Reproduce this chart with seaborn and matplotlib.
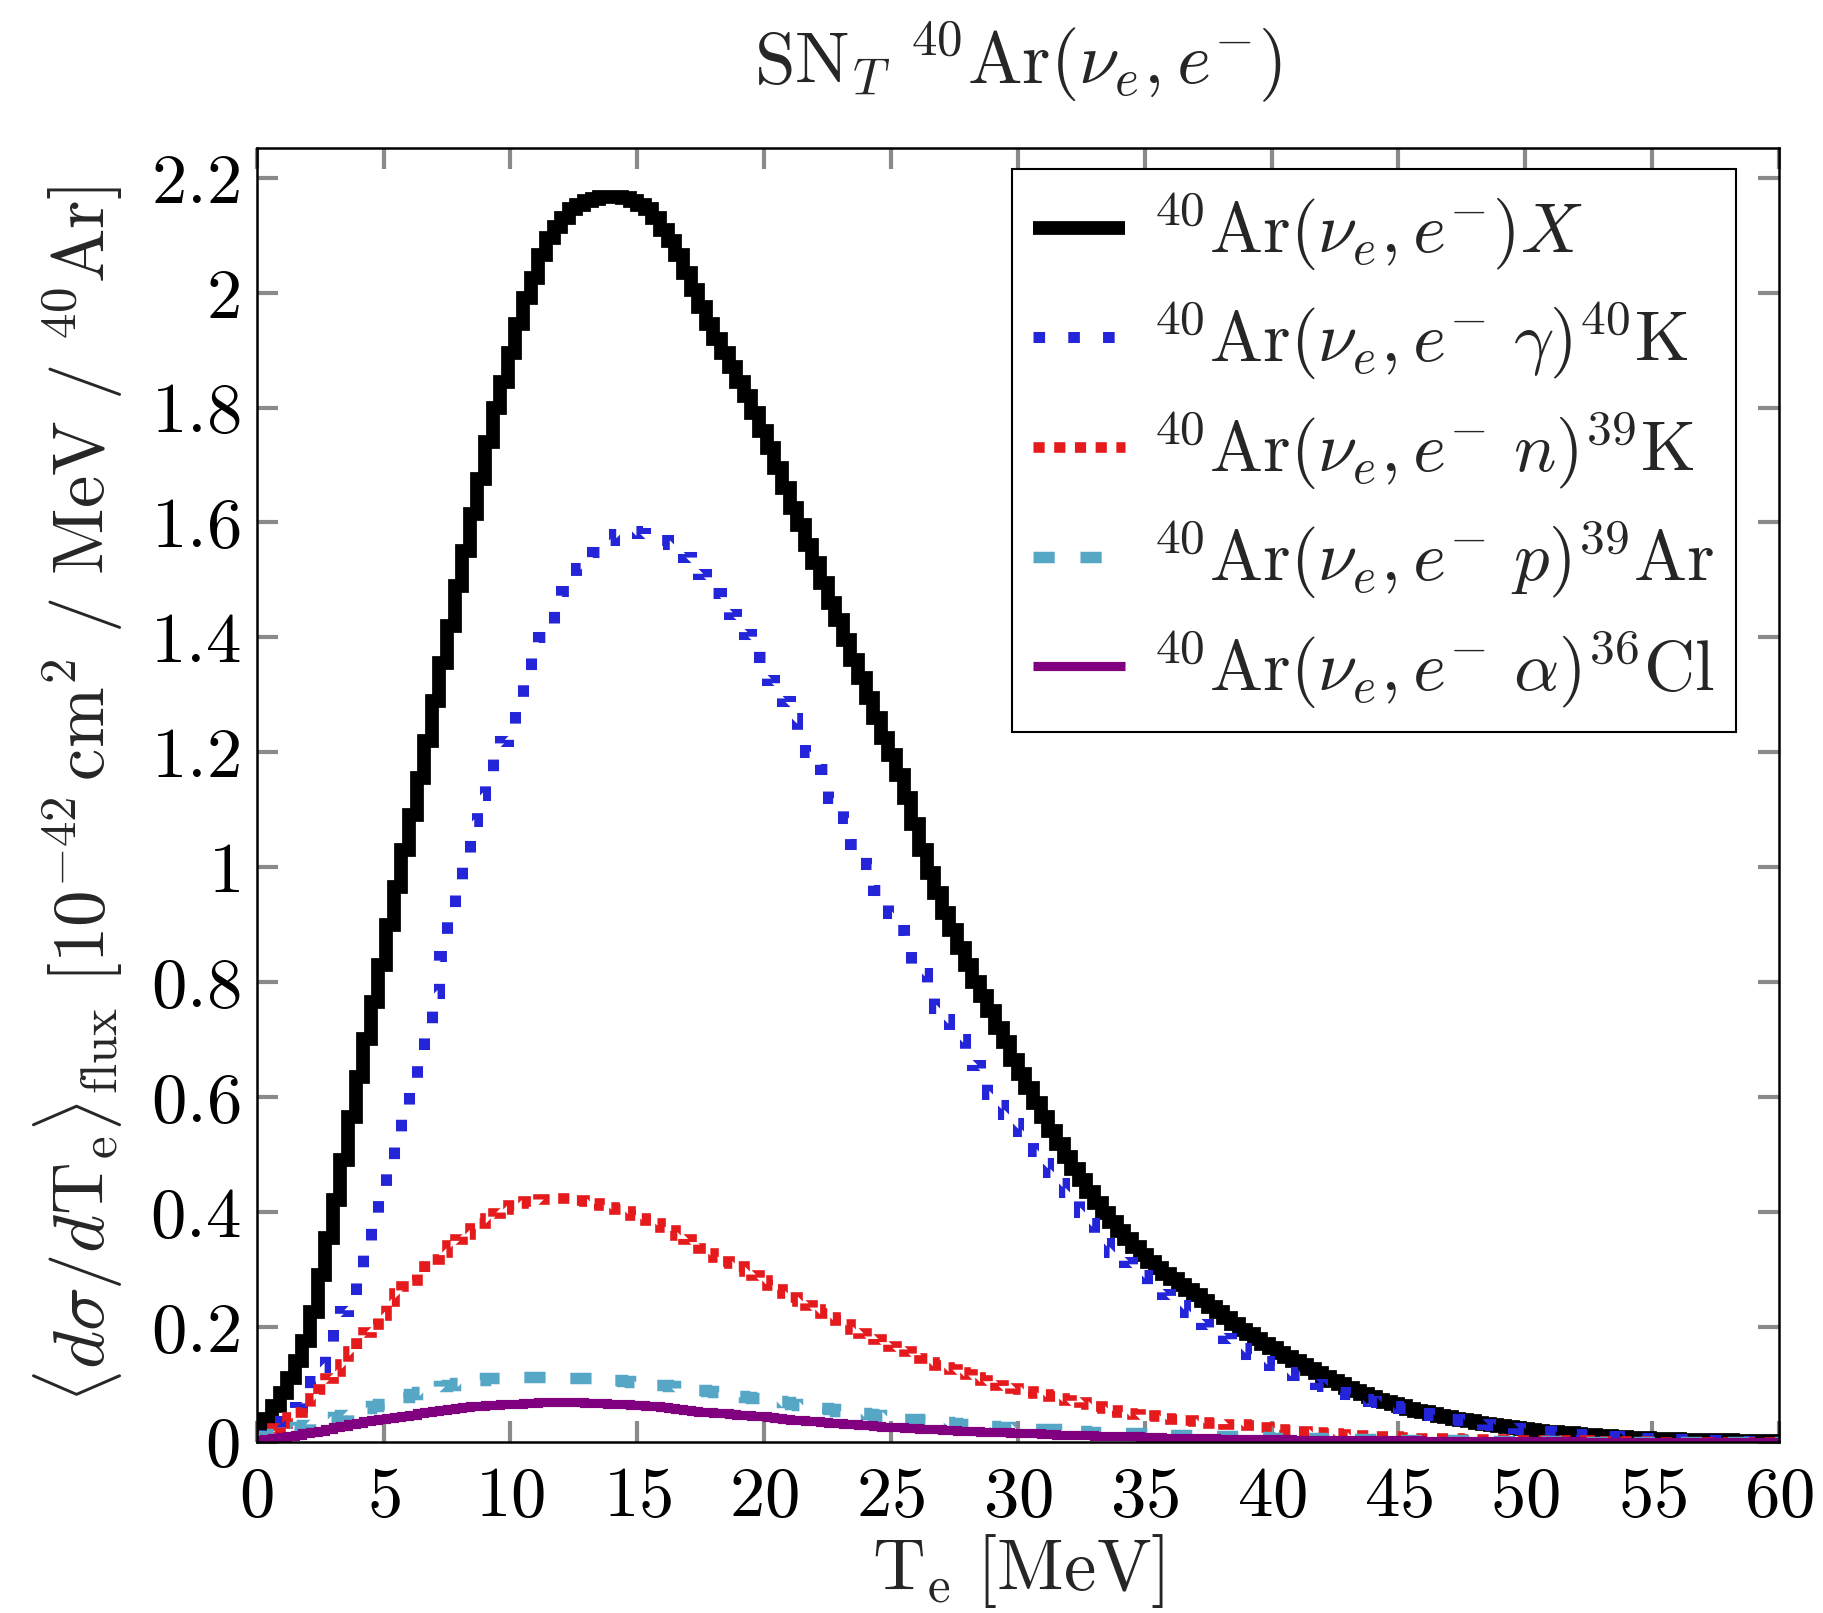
import numpy as np
import matplotlib
matplotlib.use("Agg")
import matplotlib.pyplot as plt
import matplotlib.ticker as mticker
import seaborn as sns

# bin edges: 0 .. 60 MeV, 0.3 MeV wide (200 bins),
# one row of ten bins = 3 MeV
black_X = [
    0.012, 0.040, 0.062, 0.085, 0.110, 0.140, 0.175, 0.225, 0.290, 0.355,
    0.420, 0.490, 0.565, 0.635, 0.700, 0.765, 0.830, 0.900, 0.965, 1.030,
    1.090, 1.155, 1.220, 1.290, 1.355, 1.420, 1.490, 1.550, 1.615, 1.675,
    1.740, 1.800, 1.845, 1.895, 1.945, 1.990, 2.025, 2.065, 2.095, 2.115,
    2.130, 2.145, 2.153, 2.160, 2.163, 2.166, 2.167, 2.167, 2.165, 2.160,
    2.153, 2.145, 2.130, 2.110, 2.090, 2.065, 2.035, 2.005, 1.975, 1.945,
    1.920, 1.895, 1.870, 1.845, 1.820, 1.790, 1.760, 1.730, 1.695, 1.660,
    1.625, 1.595, 1.560, 1.530, 1.495, 1.460, 1.430, 1.395, 1.360, 1.330,
    1.295, 1.260, 1.225, 1.195, 1.160, 1.120, 1.075, 1.030, 0.990, 0.955,
    0.920, 0.890, 0.860, 0.830, 0.800, 0.775, 0.750, 0.720, 0.695, 0.665,
    0.640, 0.615, 0.590, 0.565, 0.540, 0.518, 0.495, 0.475, 0.455, 0.435,
    0.415, 0.398, 0.382, 0.367, 0.352, 0.338, 0.325, 0.313, 0.302, 0.292,
    0.283, 0.273, 0.264, 0.255, 0.245, 0.235, 0.225, 0.215, 0.205, 0.195,
    0.187, 0.178, 0.170, 0.162, 0.155, 0.147, 0.140, 0.133, 0.126, 0.120,
    0.113, 0.106, 0.100, 0.094, 0.088, 0.083, 0.078, 0.073, 0.069, 0.065,
    0.061, 0.057, 0.054, 0.051, 0.048, 0.045, 0.043, 0.040, 0.038, 0.036,
    0.033, 0.031, 0.029, 0.027, 0.025, 0.023, 0.022, 0.020, 0.019, 0.017,
    0.016, 0.015, 0.014, 0.013, 0.012, 0.011, 0.010, 0.009, 0.008, 0.008,
    0.007, 0.006, 0.006, 0.005, 0.005, 0.004, 0.004, 0.003, 0.003, 0.003,
    0.002, 0.002, 0.002, 0.002, 0.001, 0.001, 0.001, 0.001, 0.001, 0.001,
]
blue_gamma = [
    0.005, 0.012, 0.024, 0.036, 0.048, 0.060, 0.080, 0.105, 0.130, 0.165,
    0.200, 0.228, 0.255, 0.290, 0.335, 0.385, 0.435, 0.485, 0.535, 0.580,
    0.630, 0.675, 0.725, 0.780, 0.845, 0.930, 0.975, 1.020, 1.080, 1.125,
    1.155, 1.200, 1.220, 1.240, 1.280, 1.335, 1.375, 1.400, 1.420, 1.460,
    1.480, 1.500, 1.520, 1.535, 1.548, 1.560, 1.570, 1.580, 1.586, 1.585,
    1.582, 1.580, 1.577, 1.570, 1.562, 1.553, 1.540, 1.527, 1.510, 1.495,
    1.478, 1.460, 1.440, 1.425, 1.405, 1.385, 1.365, 1.325, 1.305, 1.290,
    1.260, 1.230, 1.200, 1.185, 1.170, 1.120, 1.100, 1.085, 1.040, 1.020,
    1.005, 0.960, 0.940, 0.920, 0.890, 0.860, 0.830, 0.815, 0.800, 0.755,
    0.735, 0.715, 0.700, 0.680, 0.655, 0.630, 0.605, 0.585, 0.570, 0.555,
    0.540, 0.525, 0.505, 0.485, 0.470, 0.450, 0.435, 0.420, 0.400, 0.380,
    0.360, 0.345, 0.330, 0.320, 0.312, 0.304, 0.290, 0.275, 0.265, 0.256,
    0.247, 0.237, 0.225, 0.213, 0.205, 0.197, 0.188, 0.180, 0.172, 0.163,
    0.153, 0.146, 0.140, 0.133, 0.127, 0.121, 0.116, 0.111, 0.106, 0.101,
    0.097, 0.092, 0.087, 0.082, 0.078, 0.074, 0.071, 0.068, 0.065, 0.062,
    0.058, 0.055, 0.052, 0.049, 0.046, 0.043, 0.041, 0.039, 0.037, 0.035,
    0.033, 0.031, 0.029, 0.027, 0.025, 0.023, 0.021, 0.020, 0.019, 0.018,
    0.017, 0.016, 0.015, 0.013, 0.012, 0.011, 0.010, 0.010, 0.009, 0.008,
    0.008, 0.007, 0.007, 0.006, 0.006, 0.005, 0.005, 0.004, 0.004, 0.003,
    0.003, 0.003, 0.002, 0.002, 0.002, 0.001, 0.001, 0.001, 0.001, 0.001,
]
red_n = [
    0.010, 0.018, 0.023, 0.032, 0.043, 0.051, 0.060, 0.075, 0.092, 0.110,
    0.122, 0.135, 0.158, 0.172, 0.190, 0.205, 0.220, 0.245, 0.258, 0.270,
    0.282, 0.293, 0.305, 0.318, 0.330, 0.343, 0.353, 0.362, 0.372, 0.380,
    0.390, 0.398, 0.405, 0.411, 0.415, 0.418, 0.420, 0.422, 0.423, 0.424,
    0.424, 0.423, 0.420, 0.418, 0.415, 0.412, 0.408, 0.405, 0.401, 0.395,
    0.389, 0.385, 0.380, 0.374, 0.368, 0.360, 0.352, 0.345, 0.337, 0.328,
    0.321, 0.315, 0.310, 0.305, 0.297, 0.290, 0.281, 0.272, 0.265, 0.258,
    0.251, 0.244, 0.237, 0.230, 0.223, 0.217, 0.211, 0.205, 0.196, 0.189,
    0.183, 0.178, 0.172, 0.167, 0.162, 0.157, 0.152, 0.145, 0.139, 0.134,
    0.130, 0.126, 0.121, 0.117, 0.112, 0.107, 0.103, 0.099, 0.096, 0.094,
    0.091, 0.088, 0.085, 0.082, 0.079, 0.076, 0.073, 0.071, 0.068, 0.065,
    0.061, 0.058, 0.055, 0.052, 0.050, 0.048, 0.047, 0.046, 0.044, 0.041,
    0.039, 0.038, 0.037, 0.035, 0.034, 0.033, 0.032, 0.031, 0.031, 0.030,
    0.028, 0.026, 0.025, 0.023, 0.022, 0.020, 0.019, 0.018, 0.017, 0.016,
    0.015, 0.014, 0.013, 0.012, 0.011, 0.011, 0.010, 0.010, 0.009, 0.009,
    0.008, 0.008, 0.007, 0.007, 0.007, 0.006, 0.006, 0.006, 0.005, 0.005,
    0.005, 0.004, 0.004, 0.004, 0.004, 0.003, 0.003, 0.003, 0.003, 0.002,
    0.002, 0.002, 0.002, 0.002, 0.002, 0.001, 0.001, 0.001, 0.001, 0.001,
    0.001, 0.001, 0.001, 0.001, 0.000, 0.000, 0.000, 0.000, 0.000, 0.000,
    0.000, 0.000, 0.000, 0.000, 0.000, 0.000, 0.000, 0.000, 0.000, 0.000,
]
cyan_p = [
    0.005, 0.009, 0.013, 0.017, 0.021, 0.025, 0.029, 0.032, 0.035, 0.039,
    0.042, 0.046, 0.050, 0.054, 0.058, 0.062, 0.066, 0.070, 0.074, 0.078,
    0.082, 0.086, 0.090, 0.093, 0.096, 0.099, 0.102, 0.104, 0.106, 0.108,
    0.110, 0.111, 0.112, 0.113, 0.113, 0.113, 0.113, 0.113, 0.113, 0.112,
    0.112, 0.111, 0.110, 0.110, 0.109, 0.108, 0.107, 0.107, 0.106, 0.104,
    0.103, 0.101, 0.099, 0.098, 0.096, 0.094, 0.093, 0.091, 0.090, 0.088,
    0.086, 0.084, 0.082, 0.080, 0.078, 0.076, 0.074, 0.072, 0.070, 0.068,
    0.066, 0.064, 0.062, 0.060, 0.058, 0.056, 0.054, 0.053, 0.051, 0.050,
    0.048, 0.046, 0.045, 0.043, 0.042, 0.040, 0.039, 0.037, 0.036, 0.035,
    0.034, 0.033, 0.031, 0.030, 0.029, 0.028, 0.027, 0.026, 0.025, 0.024,
    0.024, 0.023, 0.022, 0.021, 0.021, 0.020, 0.019, 0.019, 0.018, 0.017,
    0.017, 0.016, 0.016, 0.015, 0.015, 0.014, 0.014, 0.013, 0.013, 0.012,
    0.012, 0.011, 0.011, 0.011, 0.010, 0.010, 0.010, 0.009, 0.009, 0.009,
    0.008, 0.008, 0.008, 0.007, 0.007, 0.007, 0.006, 0.006, 0.006, 0.006,
    0.005, 0.005, 0.005, 0.005, 0.004, 0.004, 0.004, 0.004, 0.004, 0.003,
    0.003, 0.003, 0.003, 0.003, 0.003, 0.002, 0.002, 0.002, 0.002, 0.002,
    0.002, 0.002, 0.001, 0.001, 0.001, 0.001, 0.001, 0.001, 0.001, 0.001,
    0.001, 0.001, 0.001, 0.001, 0.000, 0.000, 0.000, 0.000, 0.000, 0.000,
    0.000, 0.000, 0.000, 0.000, 0.000, 0.000, 0.000, 0.000, 0.000, 0.000,
    0.000, 0.000, 0.000, 0.000, 0.000, 0.000, 0.000, 0.000, 0.000, 0.000,
]
purple_alpha = [
    0.003, 0.004, 0.006, 0.008, 0.010, 0.012, 0.014, 0.017, 0.019, 0.022,
    0.025, 0.027, 0.030, 0.032, 0.035, 0.037, 0.039, 0.041, 0.043, 0.045,
    0.047, 0.049, 0.051, 0.053, 0.055, 0.057, 0.058, 0.060, 0.061, 0.062,
    0.063, 0.064, 0.065, 0.066, 0.066, 0.067, 0.067, 0.068, 0.068, 0.068,
    0.068, 0.068, 0.068, 0.067, 0.067, 0.067, 0.066, 0.066, 0.065, 0.064,
    0.063, 0.062, 0.061, 0.060, 0.058, 0.057, 0.055, 0.054, 0.052, 0.051,
    0.050, 0.049, 0.048, 0.047, 0.046, 0.045, 0.044, 0.042, 0.041, 0.040,
    0.038, 0.037, 0.036, 0.035, 0.034, 0.033, 0.032, 0.031, 0.030, 0.029,
    0.028, 0.027, 0.026, 0.025, 0.025, 0.024, 0.023, 0.022, 0.022, 0.021,
    0.020, 0.020, 0.019, 0.018, 0.018, 0.017, 0.017, 0.016, 0.016, 0.015,
    0.015, 0.014, 0.014, 0.013, 0.013, 0.012, 0.012, 0.011, 0.011, 0.011,
    0.010, 0.010, 0.010, 0.009, 0.009, 0.009, 0.008, 0.008, 0.008, 0.007,
    0.007, 0.007, 0.006, 0.006, 0.006, 0.006, 0.005, 0.005, 0.005, 0.005,
    0.005, 0.004, 0.004, 0.004, 0.004, 0.004, 0.003, 0.003, 0.003, 0.003,
    0.003, 0.003, 0.003, 0.002, 0.002, 0.002, 0.002, 0.002, 0.002, 0.002,
    0.002, 0.002, 0.002, 0.001, 0.001, 0.001, 0.001, 0.001, 0.001, 0.001,
    0.001, 0.001, 0.001, 0.001, 0.001, 0.001, 0.001, 0.001, 0.001, 0.001,
    0.001, 0.001, 0.001, 0.001, 0.000, 0.000, 0.000, 0.000, 0.000, 0.000,
    0.000, 0.000, 0.000, 0.000, 0.000, 0.000, 0.000, 0.000, 0.000, 0.000,
    0.000, 0.000, 0.000, 0.000, 0.000, 0.000, 0.000, 0.000, 0.000, 0.000,
]

labels = [
    r"${}^{40}\mathrm{Ar}(\nu_e, e^{-})X$",
    r"${}^{40}\mathrm{Ar}(\nu_e, e^{-}\ \gamma)^{40}\mathrm{K}$",
    r"${}^{40}\mathrm{Ar}(\nu_e, e^{-}\ n)^{39}\mathrm{K}$",
    r"${}^{40}\mathrm{Ar}(\nu_e, e^{-}\ p)^{39}\mathrm{Ar}$",
    r"${}^{40}\mathrm{Ar}(\nu_e, e^{-}\ \alpha)^{36}\mathrm{Cl}$",
]
series = [black_X, blue_gamma, red_n, cyan_p, purple_alpha]
colors = ["black", "#2424d8", "#e41a1c", "#56a6c6", "#800080"]
widths = [3.3, 2.65, 2.55, 2.75, 2.2]
styles = ["-", (0, (1.05, 2.1)), (0, (1.05, 0.9)), (0, (1.85, 2.25)), "-"]

sns.set_theme(style="ticks")
plt.rcParams["font.family"] = "serif"
plt.rcParams["font.serif"] = ["cmr10", "DejaVu Serif"]
plt.rcParams["mathtext.fontset"] = "cm"
plt.rcParams["axes.unicode_minus"] = False
plt.rcParams["axes.formatter.use_mathtext"] = True

figsize = (1823 / 300), (1613 / 300)
dpi = 300
fs = 17

fig = plt.figure(figsize=figsize, dpi=dpi)
ax = fig.add_axes([0.1408, 0.1063, 0.8351, 0.8022])

for vals, lab, col, lw, ls in zip(series, labels, colors, widths, styles):
    n = len(vals)
    edges = np.linspace(0, 60, n + 1)
    centers = 0.5 * (edges[:-1] + edges[1:])
    sns.histplot(
        x=centers, weights=vals, bins=edges.tolist(),
        element="step", fill=False,
        color=col, linewidth=lw, linestyle=ls, label=lab,
        solid_joinstyle="miter", dash_joinstyle="miter",
        solid_capstyle="butt", dash_capstyle="butt",
        ax=ax,
    )

ax.set_xlim(0, 60)
ax.set_ylim(0, 2.2526)
ax.xaxis.set_major_locator(mticker.MultipleLocator(5))
ax.yaxis.set_major_locator(mticker.MultipleLocator(0.2))
fmt = mticker.FuncFormatter(lambda v, p: r"$%g$" % round(v, 3))
ax.xaxis.set_major_formatter(fmt)
ax.yaxis.set_major_formatter(fmt)

ax.tick_params(axis="both", which="major", direction="in", top=True, right=True,
               length=5, width=1.0, color="#8a8a8a", labelsize=fs, labelcolor="black")
ax.tick_params(axis="x", pad=6)
ax.tick_params(axis="y", pad=4)
for sp in ax.spines.values():
    sp.set_linewidth(0.6)
    sp.set_color("black")

ax.set_title(r"$\mathrm{SN}_T\ {}^{40}\mathrm{Ar}(\nu_e, e^{-})$", fontsize=fs + 0.5, pad=15.5)
ax.set_xlabel(r"$\mathrm{T_e}\ [\mathrm{MeV}]$", fontsize=fs + 0.5, labelpad=0.5)
ax.set_ylabel(r"$\langle d\sigma / d\mathrm{T_e} \rangle_{\mathrm{flux}}\ [10^{-42}\,\mathrm{cm}^2\ /\ \mathrm{MeV}\ /\ {}^{40}\mathrm{Ar}]$",
              fontsize=fs + 0.5, labelpad=6)

leg = ax.legend(
    loc="upper right", bbox_to_anchor=(0.9718, 0.9838), borderaxespad=0,
    fontsize=fs, frameon=True, fancybox=False, edgecolor="black",
    handlelength=1.3, handletextpad=0.38, labelspacing=0.38, borderpad=0.3,
)
leg.get_frame().set_linewidth(0.5)
leg.get_frame().set_alpha(1)

fig.savefig("out.png", dpi=dpi)
